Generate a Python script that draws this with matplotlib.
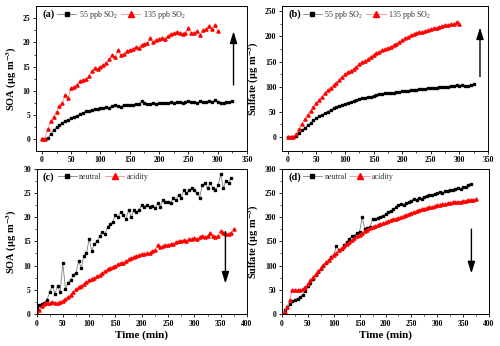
import matplotlib
matplotlib.use("Agg")
import matplotlib.pyplot as plt
import numpy as np

plt.rcParams['font.family'] = ['Liberation Serif', 'DejaVu Serif']
plt.rcParams['mathtext.fontset'] = 'stix'
plt.rcParams['font.weight'] = 'bold'

# (a) SOA, SO2 levels, sampled every 5 min
soa_55 = [0, 0, 0.1, 1.0, 1.8, 2.4, 2.9, 3.3, 3.7, 4.0, 4.3, 4.6, 4.8, 5.1, 5.4, 5.7,
          5.8, 5.9, 6.2, 6.1, 6.4, 6.3, 6.6, 6.5, 6.9, 7.1, 6.9, 6.7, 7.1, 7.0, 7.1, 7.0,
          7.2, 7.3, 7.8, 7.4, 7.2, 7.3, 7.4, 7.3, 7.4, 7.5, 7.4, 7.5, 7.6, 7.5, 7.7, 7.6,
          7.5, 7.7, 7.8, 7.6, 7.7, 7.5, 7.8, 7.6, 7.7, 7.9, 7.6, 8.0, 7.7, 7.5, 7.4, 7.6,
          7.6, 7.8]
soa_135 = [0, 0, 2.0, 3.8, 4.6, 5.6, 6.8, 7.5, 9.2, 8.5, 10.5, 10.8, 11.2, 12.0, 12.2,
           12.5, 13.0, 14.0, 14.8, 14.5, 15.0, 15.4, 15.8, 16.5, 17.3, 17.0, 18.5, 17.3,
           17.6, 18.2, 18.5, 18.6, 19.0, 18.8, 19.5, 19.6, 19.8, 21.0, 20.0, 20.5, 20.8,
           21.0, 20.8, 21.3, 21.8, 21.9, 22.2, 22.0, 21.8, 22.0, 23.0, 22.0, 22.0, 22.3,
           21.5, 22.5, 22.8, 23.5, 22.8, 23.6, 22.4]

# (b) sulfate, SO2 levels
sulf_55 = [0, 0, 0, 2, 8, 13, 18, 23, 28, 33, 37, 41, 44, 47, 50, 54, 57, 60, 62, 64,
           66, 68, 70, 71, 73, 75, 77, 78, 79, 80, 82, 83, 85, 86, 87, 88, 88, 87, 89, 90,
           92, 92, 91, 93, 94, 94, 95, 95, 96, 97, 97, 98, 98, 99, 100, 99, 100, 101, 102,
           103, 102, 103, 101, 102, 103, 105]
sulf_135 = [0, 0, 0, 5, 15, 25, 35, 44, 52, 60, 67, 74, 80, 87, 93, 98, 103, 108, 113,
            120, 125, 129, 132, 136, 140, 145, 149, 151, 155, 160, 164, 167, 170, 173,
            176, 178, 180, 183, 186, 189, 193, 197, 199, 202, 204, 206, 208, 209, 211,
            213, 214, 216, 217, 219, 220, 222, 223, 224, 225, 229, 224]

# (c) SOA, neutral vs acidic seed
soa_neu = [1.2, 1.8, 2.0, 2.4, 3.0, 4.5, 5.8, 4.2, 5.8, 4.6, 10.5, 5.2, 6.5, 7.0, 8.0,
           8.5, 11.0, 9.5, 12.0, 12.5, 15.5, 13.0, 14.5, 15.0, 16.0, 17.0, 16.5, 18.0,
           18.5, 19.0, 20.5, 20.0, 21.0, 20.5, 19.5, 21.5, 20.0, 21.5, 21.0, 21.5, 22.5,
           22.0, 22.5, 22.0, 22.2, 21.8, 22.8, 22.0, 23.5, 23.0, 23.2, 22.8, 24.0, 23.5,
           24.5, 24.0, 25.5, 25.0, 25.5, 26.0, 25.5, 25.0, 24.0, 26.5, 27.0, 26.0, 27.0,
           26.0, 25.5, 26.5, 28.8, 26.0, 27.5, 27.0, 28.0]
soa_acid = [0.2, 0.8, 1.6, 2.0, 2.3, 2.4, 2.5, 2.4, 2.2, 2.5, 2.8, 3.2, 3.5, 4.0, 4.5,
            5.2, 5.5, 5.8, 6.2, 6.6, 7.0, 7.3, 7.5, 7.8, 8.0, 8.4, 8.8, 9.2, 9.6, 9.8,
            10.0, 10.3, 10.5, 10.6, 11.0, 11.3, 11.5, 11.8, 12.0, 12.2, 12.4, 12.3, 12.5,
            12.6, 13.0, 13.3, 14.2, 13.8, 14.0, 14.2, 14.3, 14.5, 14.5, 14.8, 15.0, 15.0,
            15.2, 15.0, 15.5, 15.4, 15.6, 15.5, 15.8, 16.0, 15.8, 16.2, 16.8, 16.0, 15.8,
            16.2, 17.2, 16.8, 16.5, 16.5, 16.8, 17.6]

# (d) sulfate, neutral vs acidic seed
sulf_neu = [3, 8, 14, 20, 27, 30, 32, 35, 40, 48, 58, 65, 72, 80, 87, 93, 100, 106, 112,
            117, 122, 140, 132, 135, 142, 148, 155, 160, 162, 167, 170, 200, 175, 178,
            180, 196, 196, 198, 200, 203, 206, 210, 212, 216, 220, 225, 226, 224, 228,
            232, 234, 238, 236, 240, 238, 242, 244, 246, 245, 248, 249, 252, 250, 253,
            254, 256, 255, 258, 260, 257, 262, 262, 266, 269]
sulf_acid = [0, 5, 15, 30, 50, 50, 49, 50, 52, 55, 62, 70, 76, 83, 89, 95, 101, 107, 112,
             117, 122, 127, 132, 136, 140, 144, 148, 152, 156, 160, 164, 168, 171, 174,
             177, 179, 181, 183, 185, 187, 189, 191, 193, 195, 197, 199, 201, 203, 205,
             207, 209, 211, 213, 214, 216, 217, 219, 220, 221, 223, 224, 225, 226, 227,
             228, 229, 230, 231, 232, 232, 233, 234, 235, 236, 236, 237]

step = 5  # min between samples


def t_of(vals):
    return np.arange(len(vals)) * step


def draw(ax, vals, kind, label):
    if kind == 'k':
        ax.plot(t_of(vals), vals, '-', color='#808080', lw=0.6, marker='s', ms=1.9,
                mfc='black', mec='black', label=label)
    else:
        ax.plot(t_of(vals), vals, '-', color='#ff8a8a', lw=0.6, marker='^', ms=2.3,
                mfc='red', mec='red', label=label)


fig = plt.figure(figsize=(5, 3.46), dpi=100)
axa = fig.add_axes([0.072, 0.564, 0.422, 0.419])
axb = fig.add_axes([0.564, 0.564, 0.412, 0.419])
axc = fig.add_axes([0.073, 0.092, 0.421, 0.421])
axd = fig.add_axes([0.564, 0.092, 0.414, 0.421])

draw(axa, soa_55, 'k', r'55 ppb SO$_\mathregular{2}$')
draw(axa, soa_135, 'r', r'135 ppb SO$_\mathregular{2}$')
draw(axb, sulf_55, 'k', r'55 ppb SO$_\mathregular{2}$')
draw(axb, sulf_135, 'r', r'135 ppb SO$_\mathregular{2}$')
draw(axc, soa_neu, 'k', 'neutral')
draw(axc, soa_acid, 'r', 'acidity')
draw(axd, sulf_neu, 'k', 'neutral')
draw(axd, sulf_acid, 'r', 'acidity')

axa.set_xlim(-10, 350)
axa.set_ylim(-2.5, 27.6)
axa.set_yticks([0, 5, 10, 15, 20, 25])
axb.set_xlim(-10, 350)
axb.set_ylim(-28, 261)
axb.set_yticks([0, 50, 100, 150, 200, 250])
axc.set_xlim(0, 400)
axc.set_ylim(0, 30)
axc.set_yticks([0, 5, 10, 15, 20, 25, 30])
axd.set_xlim(0, 400)
axd.set_ylim(0, 300)
axd.set_yticks([0, 50, 100, 150, 200, 250, 300])

soa_lab = r'SOA ($\mathbf{\mu}$g m$^{\mathbf{-3}}$)'
sulf_lab = r'Sulfate ($\mathbf{\mu}$g m$^{\mathbf{-3}}$)'
axa.set_ylabel(soa_lab, fontsize=7.5, fontweight='bold', labelpad=3)
axb.set_ylabel(sulf_lab, fontsize=7.5, fontweight='bold', labelpad=3)
axc.set_ylabel(soa_lab, fontsize=7.5, fontweight='bold', labelpad=3)
axd.set_ylabel(sulf_lab, fontsize=7.5, fontweight='bold', labelpad=3)
axc.set_xlabel('Time (min)', fontsize=8, fontweight='bold', labelpad=2)
axd.set_xlabel('Time (min)', fontsize=8, fontweight='bold', labelpad=2)

for ax, tag in zip([axa, axb, axc, axd], ['(a)', '(b)', '(c)', '(d)']):
    ax.set_xticks(np.arange(0, ax.get_xlim()[1] + 1, 50))
    ax.set_xticks(np.arange(0, ax.get_xlim()[1] + 1, 25), minor=True)
    yt = ax.get_yticks()
    ax.set_yticks(np.arange(yt[0], yt[-1] + 0.01, (yt[1] - yt[0]) / 2), minor=True)
    ax.tick_params(which='major', direction='out', length=2.5, width=0.6,
                   labelsize=5.5, pad=1.5)
    ax.tick_params(which='minor', direction='out', length=1.5, width=0.5)
    for lbl in ax.get_xticklabels() + ax.get_yticklabels():
        lbl.set_fontweight('bold')
    for sp in ax.spines.values():
        sp.set_linewidth(0.7)
    ax.text(0.03, 0.94, tag, transform=ax.transAxes, fontsize=7.5,
            fontweight='bold', va='center', ha='left')
    leg = ax.legend(loc='center left', bbox_to_anchor=(0.1, 0.94), ncol=2,
                    frameon=False, fontsize=5.8, handlelength=2.4,
                    handletextpad=0.3, columnspacing=0.4, borderaxespad=0,
                    borderpad=0, markerscale=1.6)
    for txt in leg.get_texts():
        txt.set_fontweight('normal')
        txt.set_color('#333333')

arrow = dict(arrowstyle='-|>,head_length=0.7,head_width=0.22', color='black', lw=1.0,
             shrinkA=0, shrinkB=0)
axa.annotate('', xy=(327, 22.3), xytext=(327, 11.2), arrowprops=arrow)
axb.annotate('', xy=(336, 218), xytext=(336, 120), arrowprops=arrow)
axc.annotate('', xy=(359, 6.3), xytext=(359, 17), arrowprops=arrow)
axd.annotate('', xy=(366, 84), xytext=(366, 175), arrowprops=arrow)

fig.savefig('out.png', dpi=100)
